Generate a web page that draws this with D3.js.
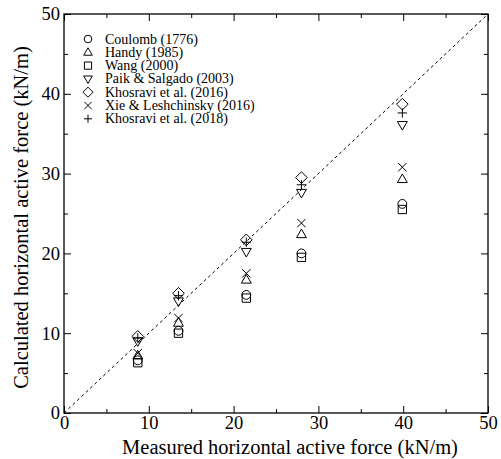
<!DOCTYPE html>
<html>
<head>
<meta charset="utf-8">
<script src="https://cdn.jsdelivr.net/npm/d3@7"></script>
<style>
  body { margin: 0; background: #fff; }
</style>
</head>
<body>
<div id="main"></div>
<script>
// measured force (kN/m), one per wall test
let measured = [8.7, 13.5, 21.5, 28.0, 39.9];
// calculated values per method
let coulomb = [6.6, 10.3, 14.8, 20.0, 26.2];
let handy = [7.2, 11.3, 16.7, 22.4, 29.3];
let wang = [6.3, 10.0, 14.4, 19.5, 25.5];
let paik = [9.0, 14.0, 20.2, 27.6, 36.1];
let khosravi16 = [9.6, 15.0, 21.7, 29.5, 38.7];
let xie = [7.5, 11.9, 17.5, 23.8, 30.8];
let khosravi18 = [9.4, 14.7, 21.4, 28.6, 37.6];

let seriesNames = ['Coulomb (1776)', 'Handy (1985)', 'Wang (2000)', 'Paik & Salgado (2003)',
  'Khosravi et al. (2016)', 'Xie & Leshchinsky (2016)', 'Khosravi et al. (2018)'];
let seriesValues = [coulomb, handy, wang, paik, khosravi16, xie, khosravi18];
let seriesShapes = ['circle', 'triangleUp', 'square', 'triangleDown', 'diamond', 'times', 'plus'];

let majorTicks = [0, 10, 20, 30, 40, 50];
let minorTicks = [5, 15, 25, 35, 45];

let serif = 'Liberation Serif';

function demo() {
  let width = 501;
  let height = 459;
  let margin = {top: 14, right: 13, bottom: 46, left: 64};

  let svg = d3.select('#main').append('svg')
    .attr('width', width).attr('height', height)
    .attr('font-family', serif);

  let x = d3.scaleLinear().domain([0, 50]).range([margin.left, width - margin.right]);
  let y = d3.scaleLinear().domain([0, 50]).range([height - margin.bottom, margin.top]);

  // marker path for a shape of given half-size
  function shapePath(shape, r) {
    let p = d3.path();
    if (shape == 'circle') {
      p.arc(0, 0, r * 0.85, 0, 2 * Math.PI);
    } else if (shape == 'square') {
      let s = r * 0.8;
      p.rect(-s, -s, 2 * s, 2 * s);
    } else if (shape == 'triangleUp') {
      p.moveTo(0, -r); p.lineTo(r * 0.95, r * 0.65); p.lineTo(-r * 0.95, r * 0.65); p.closePath();
    } else if (shape == 'triangleDown') {
      p.moveTo(0, r); p.lineTo(r * 0.95, -r * 0.65); p.lineTo(-r * 0.95, -r * 0.65); p.closePath();
    } else if (shape == 'diamond') {
      let s = r * 1.12;
      p.moveTo(0, -s); p.lineTo(s, 0); p.lineTo(0, s); p.lineTo(-s, 0); p.closePath();
    } else if (shape == 'times') {
      let s = r * 0.8;
      p.moveTo(-s, -s); p.lineTo(s, s); p.moveTo(s, -s); p.lineTo(-s, s);
    } else if (shape == 'plus') {
      let s = r * 0.9;
      p.moveTo(-s, 0); p.lineTo(s, 0); p.moveTo(0, -s); p.lineTo(0, s);
    }
    return p.toString();
  }

  // 1:1 line
  svg.append('line')
    .attr('x1', x(0)).attr('y1', y(0)).attr('x2', x(50)).attr('y2', y(50))
    .attr('stroke', '#000').attr('stroke-width', 1).attr('stroke-dasharray', '3,3');

  // axes, ticks pointing inward on all four sides
  function addAxis(axis, transform) {
    let g = svg.append('g').attr('transform', transform).call(axis);
    g.select('.domain').remove();
    g.selectAll('line').attr('stroke', '#000');
    g.attr('font-family', serif).attr('font-size', 18.5);
    g.selectAll('text').attr('fill', '#000');
    return g;
  }
  addAxis(d3.axisBottom(x).tickValues(majorTicks).tickSize(-7).tickPadding(3).tickFormat(d3.format('d')),
    'translate(0,' + y(0) + ')');
  addAxis(d3.axisBottom(x).tickValues(minorTicks).tickSize(-4).tickFormat(''), 'translate(0,' + y(0) + ')');
  addAxis(d3.axisTop(x).tickValues(majorTicks).tickSize(-7).tickFormat(''), 'translate(0,' + y(50) + ')');
  addAxis(d3.axisTop(x).tickValues(minorTicks).tickSize(-4).tickFormat(''), 'translate(0,' + y(50) + ')');
  addAxis(d3.axisLeft(y).tickValues(majorTicks).tickSize(-7).tickPadding(4).tickFormat(d3.format('d')),
    'translate(' + x(0) + ',0)');
  addAxis(d3.axisLeft(y).tickValues(minorTicks).tickSize(-4).tickFormat(''), 'translate(' + x(0) + ',0)');
  addAxis(d3.axisRight(y).tickValues(majorTicks).tickSize(-7).tickFormat(''), 'translate(' + x(50) + ',0)');
  addAxis(d3.axisRight(y).tickValues(minorTicks).tickSize(-4).tickFormat(''), 'translate(' + x(50) + ',0)');

  svg.append('rect')
    .attr('x', x(0)).attr('y', y(50))
    .attr('width', x(50) - x(0)).attr('height', y(0) - y(50))
    .attr('fill', 'none').attr('stroke', '#000').attr('stroke-width', 1.3);

  // data markers
  seriesValues.forEach(function(vals, i) {
    svg.append('g').selectAll('path')
      .data(vals)
      .enter().append('path')
      .attr('transform', function(d, j) { return 'translate(' + x(measured[j]) + ',' + y(d) + ')'; })
      .attr('d', shapePath(seriesShapes[i], 5.2))
      .attr('fill', 'none').attr('stroke', '#000').attr('stroke-width', 1);
  });

  // legend
  let legend = svg.append('g').attr('transform', 'translate(88,39)');
  seriesNames.forEach(function(name, i) {
    let row = legend.append('g').attr('transform', 'translate(0,' + (i * 13.3) + ')');
    row.append('path').attr('d', shapePath(seriesShapes[i], 4.5))
      .attr('fill', 'none').attr('stroke', '#000').attr('stroke-width', 1);
    row.append('text').attr('x', 17).attr('y', 4.5)
      .attr('font-size', 14).text(name);
  });

  // axis titles (the x title sits a little right of the plot centre in the original)
  svg.append('text')
    .attr('x', (x(0) + x(50)) / 2 + 14).attr('y', height - 5)
    .attr('text-anchor', 'middle').attr('font-size', 20.5)
    .text('Measured horizontal active force (kN/m)');
  svg.append('text')
    .attr('transform', 'translate(28,' + ((y(0) + y(50)) / 2 + 4) + ') rotate(-90)')
    .attr('text-anchor', 'middle').attr('font-size', 20.5)
    .text('Calculated horizontal active force (kN/m)');
}
demo();
</script>
</body>
</html>
